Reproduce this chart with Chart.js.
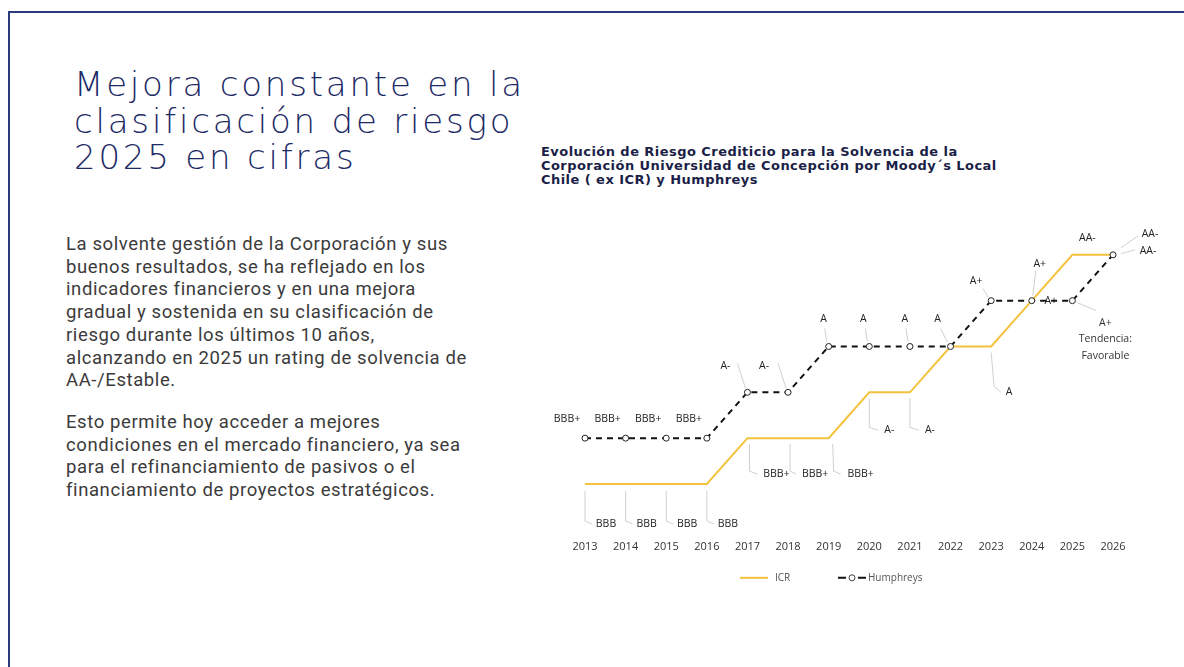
<!DOCTYPE html>
<html lang="es">
<head>
<meta charset="utf-8">
<title>Clasificación de riesgo</title>
<script src="https://cdn.jsdelivr.net/npm/chart.js@4.4.1/dist/chart.umd.min.js"></script>
<style>
    html, body { margin: 0; padding: 0; background: #fff; }
    body { width: 1184px; height: 667px; position: relative; overflow: hidden; }
    .frame { position: absolute; left: 8px; top: 11px; width: 1200px; height: 700px;
             border-left: 2px solid #2b3a7c; border-top: 2px solid #2b3a7c; }
    h1 { position: absolute; left: 74px; top: 66px; margin: 0; white-space: nowrap;
         font-family: "DejaVu Sans", sans-serif; font-weight: 200; font-size: 34px;
         letter-spacing: 2.8px; line-height: 36.5px; color: #1d2a66; }
    .texto { position: absolute; left: 66px; top: 233px; white-space: nowrap;
             font-family: Roboto, sans-serif; font-size: 18.5px; letter-spacing: 0.6px;
             line-height: 22.7px; color: #3b3b3b; }
    .texto p { margin: 0 0 19px 0; }
    .titulo { position: absolute; left: 541px; top: 145px; white-space: nowrap;
              font-family: "DejaVu Sans", sans-serif; font-weight: 700; font-size: 13px;
              letter-spacing: 0.45px; line-height: 14px; color: #1b1f48; }
    #chartWrap { position: absolute; left: 540px; top: 200px; width: 630px; height: 410px; }
</style>
</head>
<body>
<div class="frame"></div>
<h1>Mejora constante en la<br>clasificación de riesgo<br>2025 en cifras</h1>
<div class="texto">
    <p>La solvente gestión de la Corporación y sus<br>buenos resultados, se ha reflejado en los<br>indicadores financieros y en una mejora<br>gradual y sostenida en su clasificación de<br>riesgo durante los últimos 10 años,<br>alcanzando en 2025 un rating de solvencia de<br>AA-/Estable.</p>
    <p>Esto permite hoy acceder a mejores<br>condiciones en el mercado financiero, ya sea<br>para el refinanciamiento de pasivos o el<br>financiamiento de proyectos estratégicos.</p>
</div>
<div class="titulo">Evolución de Riesgo Crediticio para la Solvencia de la<br>Corporación Universidad de Concepción por Moody´s Local<br>Chile ( ex ICR) y Humphreys</div>
<div id="chartWrap"><canvas id="CanvasRiesgo"></canvas></div>

<script>
// rating scale, lowest first
const ratingScale = ["BBB", "BBB+", "A-", "A", "A+", "AA-"];

const years = ["2013", "2014", "2015", "2016", "2017", "2018", "2019",
               "2020", "2021", "2022", "2023", "2024", "2025", "2026"];

const icrRatings = ["BBB", "BBB", "BBB", "BBB", "BBB+", "BBB+", "BBB+",
                    "A-", "A-", "A", "A", "A+", "AA-", "AA-"];

const humphreysRatings = ["BBB+", "BBB+", "BBB+", "BBB+", "A-", "A-", "A",
                          "A", "A", "A", "A+", "A+", "A+", "AA-"];

// text shown next to each point ("" = no label, the 2022 ICR one is hidden behind the other line)
const icrLabels = ["BBB", "BBB", "BBB", "BBB", "BBB+", "BBB+", "BBB+",
                   "A-", "A-", "", "A", "A+", "AA-", "AA-"];
const humphreysLabels = ["BBB+", "BBB+", "BBB+", "BBB+", "A-", "A-", "A",
                         "A", "A", "A", "A+", "A+", ["A+", "Tendencia:", "Favorable"], "AA-"];

// where each label sits relative to its point: [dx, dy, leader line points]
const icrLabelLayout = [
    [21, 40, [[0, 7], [0, 37], [7, 40]]],
    [21, 40, [[0, 7], [0, 37], [7, 40]]],
    [21, 40, [[0, 7], [0, 37], [7, 40]]],
    [21, 40, [[0, 7], [0, 37], [7, 40]]],
    [29, 36, [[2, 6], [2, 33], [10, 36]]],
    [27, 36, [[2, 6], [2, 33], [8, 36]]],
    [32, 36, [[4, 6], [5, 33], [12, 36]]],
    [20, 38, [[0, 6], [0, 35], [9, 38]]],
    [20, 38, [[0, 6], [0, 35], [9, 38]]],
    [0, 0, null],
    [18, 46, [[0, 6], [3, 40], [10, 46]]],
    [8, -37, [[1, -5], [4, -30]]],
    [15, -17, null],
    [37, -21, [[8, -7], [25, -19]]]
];
const humphreysLabelLayout = [
    [-18, -19, null],
    [-18, -19, null],
    [-18, -19, null],
    [-18, -19, null],
    [-22, -26, [[-2, -4], [-10, -29]]],
    [-24, -26, [[-2, -4], [-10, -29]]],
    [-5, -27, [[-2, -5], [-4, -18]]],
    [-6, -27, [[-2, -5], [-4, -18]]],
    [-5, -27, [[-2, -5], [-4, -18]]],
    [-13, -27, [[-3, -4], [-10, -18]]],
    [-15, -20, [[-3, -3], [-8, -12]]],
    [19, 0, null],
    [33, 22, [[5, 2], [24, 10]]],
    [35, -4, [[8, -1], [22, -5]]]
];

function toLevel(ratings) {
    // rating text -> position on the scale (BBB = 1)
    return ratings.map(r => ratingScale.indexOf(r) + 1);
}

const labelFont = '10.5px "Open Sans", sans-serif';

const ratingLabelsPlugin = {
    id: 'ratingLabels',
    afterDatasetsDraw(chart) {
        const ctx = chart.ctx;
        const sets = [
            { meta: chart.getDatasetMeta(0), labels: humphreysLabels, layout: humphreysLabelLayout },
            { meta: chart.getDatasetMeta(1), labels: icrLabels, layout: icrLabelLayout }
        ];
        ctx.save();
        // leader lines first
        ctx.strokeStyle = '#c4c4c4';
        ctx.lineWidth = 0.8;
        sets.forEach(s => {
            s.meta.data.forEach((pt, i) => {
                const line = s.layout[i][2];
                if (!line || !s.labels[i]) return;
                ctx.beginPath();
                line.forEach((p, k) => {
                    if (k === 0) ctx.moveTo(pt.x + p[0], pt.y + p[1]);
                    else ctx.lineTo(pt.x + p[0], pt.y + p[1]);
                });
                ctx.stroke();
            });
        });
        ctx.fillStyle = '#222';
        ctx.font = labelFont;
        ctx.textAlign = 'center';
        ctx.textBaseline = 'middle';
        sets.forEach(s => {
            s.meta.data.forEach((pt, i) => {
                const txt = s.labels[i];
                if (!txt) return;
                const x = pt.x + s.layout[i][0];
                const y = pt.y + s.layout[i][1];
                if (Array.isArray(txt)) {
                    ctx.save();
                    ctx.font = '10.5px "Open Sans", sans-serif';
                    ctx.fillStyle = '#333';
                    txt.forEach((t, k) => ctx.fillText(t, x, y + k * 16.5));
                    ctx.restore();
                } else {
                    ctx.fillText(txt, x, y);
                }
            });
        });

        // legend under the axis
        const area = chart.chartArea;
        const ly = area.bottom + 48;
        const lx = area.left + 155;
        ctx.strokeStyle = '#f4c23c';
        ctx.lineWidth = 2;
        ctx.setLineDash([]);
        ctx.beginPath();
        ctx.moveTo(lx, ly);
        ctx.lineTo(lx + 28, ly);
        ctx.stroke();
        ctx.font = '10px "Open Sans", sans-serif';
        ctx.fillStyle = '#555';
        ctx.textAlign = 'left';
        ctx.fillText('ICR', lx + 35, ly);

        const hx = lx + 98;
        ctx.strokeStyle = '#111';
        ctx.lineWidth = 2;
        ctx.beginPath();
        ctx.moveTo(hx, ly); ctx.lineTo(hx + 8, ly);
        ctx.moveTo(hx + 20, ly); ctx.lineTo(hx + 28, ly);
        ctx.stroke();
        ctx.lineWidth = 0.8;
        ctx.beginPath();
        ctx.arc(hx + 14, ly, 3, 0, Math.PI * 2);
        ctx.fillStyle = '#fff';
        ctx.fill();
        ctx.stroke();
        ctx.fillStyle = '#555';
        ctx.fillText('Humphreys', hx + 30, ly);
        ctx.restore();
    }
};

new Chart(document.getElementById("CanvasRiesgo"), {
    type: 'line',
    data: {
        labels: years,
        datasets: [{
            label: 'Humphreys',
            data: toLevel(humphreysRatings),
            borderColor: '#111',
            borderWidth: 2,
            borderDash: [6, 5],
            pointRadius: 3,
            pointBorderWidth: 1,
            pointBorderColor: '#222',
            pointBackgroundColor: '#fff',
            tension: 0
        }, {
            label: 'ICR',
            data: toLevel(icrRatings),
            borderColor: '#f4c23c',
            borderWidth: 2,
            pointRadius: 0,
            tension: 0
        }]
    },
    options: {
        responsive: true,
        maintainAspectRatio: false,
        animation: false,
        layout: {
            padding: { left: 45, right: 57, top: 9, bottom: 47 }
        },
        scales: {
            x: {
                offset: false,
                grid: { display: false, drawTicks: false },
                border: { display: false },
                ticks: {
                    padding: 10,
                    color: '#333',
                    maxRotation: 0,
                    autoSkip: false,
                    font: { family: '"Open Sans", sans-serif', size: 11 }
                }
            },
            y: {
                display: false,
                min: 0,
                max: 7
            }
        },
        plugins: {
            legend: { display: false },
            tooltip: { enabled: false }
        }
    },
    plugins: [ratingLabelsPlugin]
});
</script>
</body>
</html>
